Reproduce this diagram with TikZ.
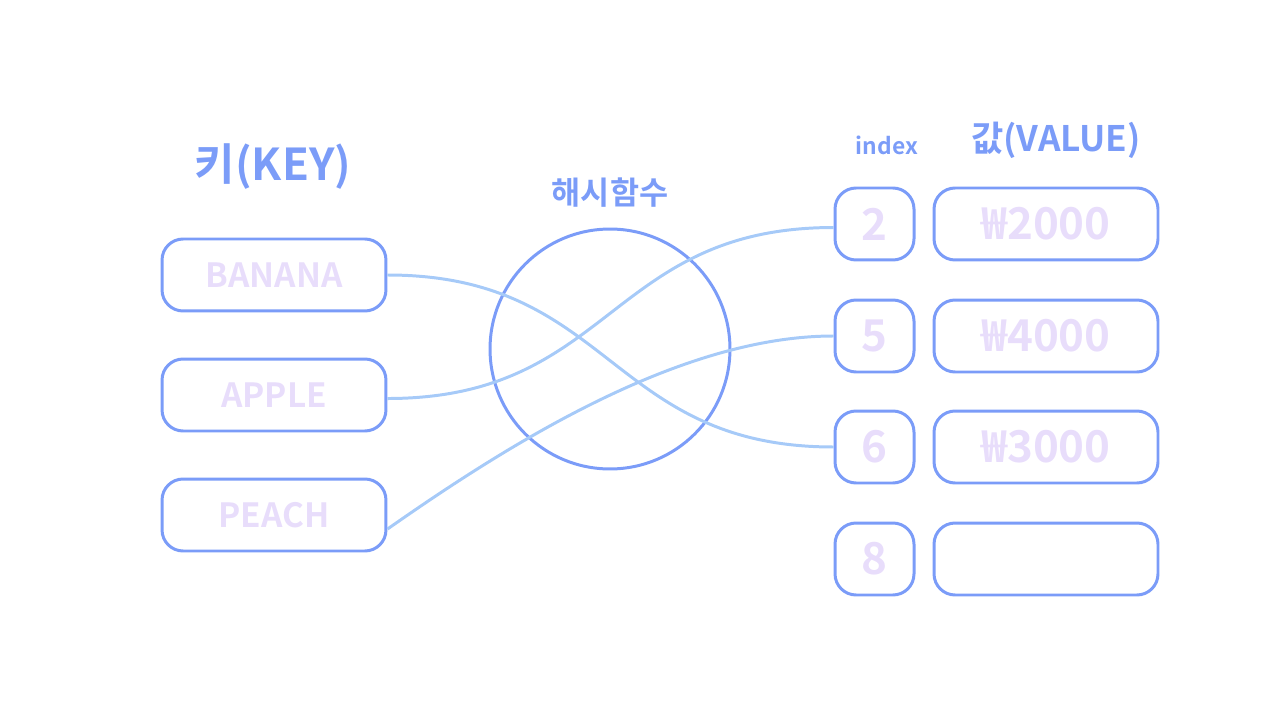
\documentclass[tikz,border=0pt]{standalone}
\usepackage{fontspec}
\setmainfont{Noto Sans CJK KR}[BoldFont={Noto Sans CJK KR Bold}]
\usepackage{tikz}
\usetikzlibrary{positioning}

\definecolor{boxborder}{HTML}{7B9CF8}
\definecolor{boxtext}{HTML}{E8DDFB}
\definecolor{linkline}{HTML}{A6CAF8}

\begin{document}
\begin{tikzpicture}[x=0.02cm, y=-0.02cm,
    keybox/.style={rectangle, rounded corners=12pt, draw=boxborder, line width=1.7pt,
        minimum width=4.48cm, minimum height=1.44cm, font=\fontsize{19}{21}\selectfont\bfseries, text=boxtext},
    idxbox/.style={rectangle, rounded corners=12pt, draw=boxborder, line width=1.7pt,
        minimum width=1.58cm, minimum height=1.44cm, font=\fontsize{25}{28}\selectfont\bfseries, text=boxtext},
    valbox/.style={rectangle, rounded corners=12pt, draw=boxborder, line width=1.7pt,
        minimum width=4.48cm, minimum height=1.44cm, font=\fontsize{25}{28}\selectfont\bfseries, text=boxtext},
    title/.style={text=boxborder, font=\bfseries},
    link/.style={linkline, line width=1.7pt, out=0, in=180, looseness=1.2},
]
\useasboundingbox (0,0) rectangle (1280,719);

% keys
\node[keybox] (banana) at (274,275) {BANANA};
\node[keybox] (apple)  at (274,395) {APPLE};
\node[keybox] (peach)  at (274,515) {PEACH};

% hash function
\node[circle, draw=boxborder, line width=1.7pt, minimum size=4.8cm] (hash) at (610,349) {};

% index and values
\node[idxbox] (i2) at (874.5,224) {2};
\node[idxbox] (i5) at (874.5,336) {5};
\node[idxbox] (i6) at (874.5,447) {6};
\node[idxbox] (i8) at (874.5,559) {8};
\node[valbox] (v2) at (1046,224) {₩2000};
\node[valbox] (v5) at (1046,336) {₩4000};
\node[valbox] (v6) at (1046,447) {₩3000};
\node[valbox] (v8) at (1046,559) {};

% titles
\node[title, font=\fontsize{25}{27}\selectfont\bfseries] (keytitle) at (273,167) {키(KEY)};
\node[title, font=\fontsize{18}{20}\selectfont\bfseries] (hashtitle) at (610,193) {해시함수};
\node[title, font=\fontsize{13}{15}\selectfont\bfseries] (idxtitle) at (887,145) {index};
\node[title, font=\fontsize{20}{22}\selectfont\bfseries] (valtitle) at (1056,140) {값(VALUE)};

% links
\draw[link] (banana.east) to (i6.west);
\draw[link] ([yshift=-2pt]apple.east) to ([yshift=-2pt]i2.west);
\draw[link, out=35, looseness=0.8] ([yshift=-8pt]peach.east) to (i5.west);
\end{tikzpicture}
\end{document}
